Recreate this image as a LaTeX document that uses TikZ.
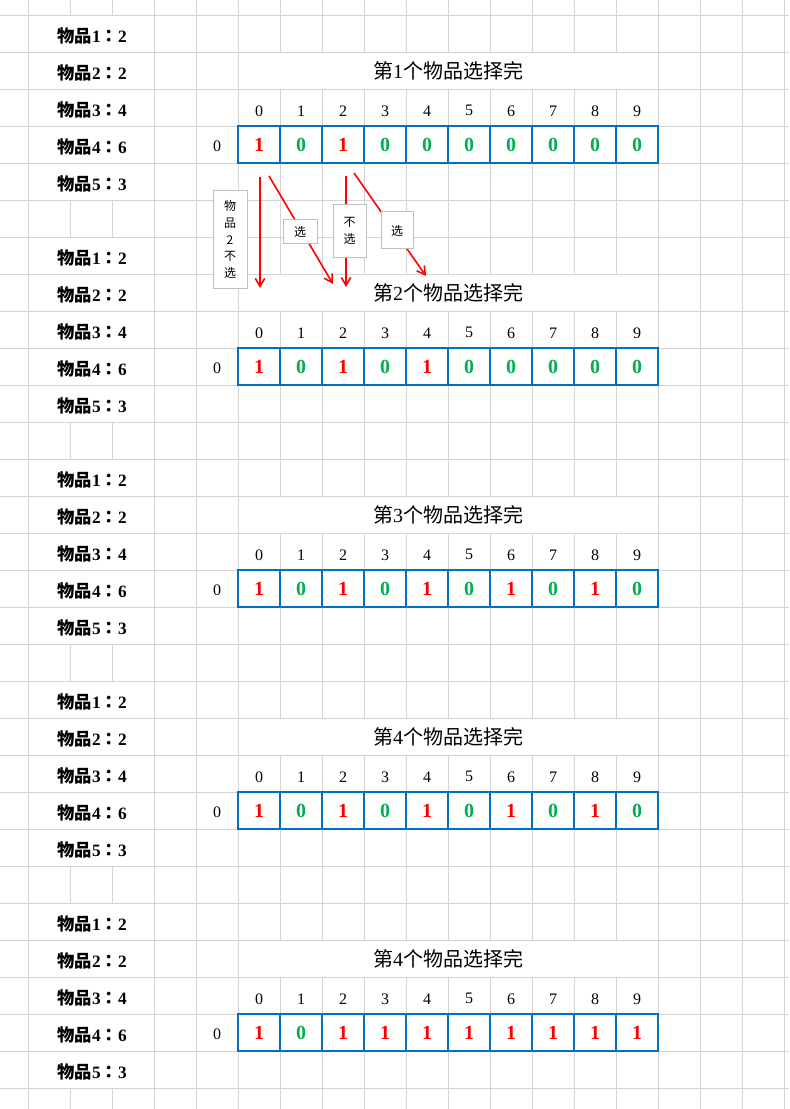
\documentclass[tikz,border=0pt]{standalone}
\usepackage{fontspec}
\setmainfont{Liberation Serif}
\newfontfamily\cjk{Noto Sans CJK SC}
\newfontfamily\cjkpunct{Noto Sans CJK TC}
\usetikzlibrary{arrows.meta}
\definecolor{gridgray}{HTML}{D4D4D4}
\definecolor{cellblue}{HTML}{0070C0}
\definecolor{onered}{HTML}{FF0000}
\definecolor{zerogreen}{HTML}{00B050}
\definecolor{notegray}{HTML}{BFBFBF}
\tikzset{
  gridline/.style={draw=gridgray, line width=0.75pt},
  itemlabel/.style={font=\bfseries\fontsize{13}{15}\selectfont},
  stagetitle/.style={font=\fontsize{15}{17}\selectfont},
  capindex/.style={font=\fontsize{12}{14}\selectfont},
  cellbox/.style={draw=cellblue, line width=1.6pt, minimum width=31.5pt,
    minimum height=27.75pt, inner sep=0pt, font=\bfseries\fontsize{15}{17}\selectfont},
  cell1/.style={text=onered},
  cell0/.style={text=zerogreen},
  note/.style={draw=notegray, line width=0.75pt, fill=white, inner sep=0pt,
    align=center, font=\cjk\fontsize{9}{12.4}\selectfont},
  pickarrow/.style={draw=onered, line width=1.2pt, -{Straight Barb[length=6pt,width=7pt]}}
}

\begin{document}
\begin{tikzpicture}[x=0.75pt,y=-0.75pt]
  \useasboundingbox (0,0) rectangle (789,1109);
  \fill [white] (0,0) rectangle (789,1109);
  % sheet grid
  \foreach \k in {0,...,18}
    \draw [gridline] ({28+42*\k},0) -- ({28+42*\k},1109);
  \foreach \k in {0,...,29}
    \draw [gridline] (0,{15.3+37*\k}) -- (789,{15.3+37*\k});
  % five blocks
  \foreach \b/\t/\vals in {0/1/{1,0,1,0,0,0,0,0,0,0},
                          1/2/{1,0,1,0,1,0,0,0,0,0},
                          2/3/{1,0,1,0,1,0,1,0,1,0},
                          3/4/{1,0,1,0,1,0,1,0,1,0},
                          4/4/{1,0,1,1,1,1,1,1,1,1}} {
    \pgfmathsetmacro\blocky{15.3+222*\b}
    \foreach \j/\n/\w in {0/1/2,1/2/2,2/3/4,3/4/6,4/5/3} {
      \fill [white] (28.6,{\blocky+37*\j+0.6}) rectangle (153.4,{\blocky+37*\j+36.4});
      \node [itemlabel] (item-\b-\n) at (92,{\blocky+37*\j+20.5}) {{\cjk 物品}\n{\cjkpunct ：}\w};
    }
    \fill [white] (238.6,{\blocky+37.6}) rectangle (657.4,{\blocky+73.4});
    \node [stagetitle] (title-\b) at (448,{\blocky+55.5}) {{\cjk 第}\t{\cjk 个物品选择完}};
    \foreach \i in {0,...,9}
      \node [capindex] (cap-\b-\i) at ({259+42*\i},{\blocky+95.5}) {\i};
    \node [capindex] (row-\b) at (217,{\blocky+131}) {0};
    \foreach \v [count=\i from 0] in \vals
      \node [cellbox, cell\v] (cell-\b-\i) at ({259+42*\i},{\blocky+129.5}) {\v};
  }
  % choices for item 2
  \coordinate (skipA-s) at (260,177);
  \coordinate (skipA-e) at (260,288);
  \coordinate (takeA-s) at (269,176);
  \coordinate (takeA-e) at (333,284);
  \coordinate (skipB-s) at (346,176);
  \coordinate (skipB-e) at (346,287);
  \coordinate (takeB-s) at (354,173);
  \coordinate (takeB-e) at (426,276);
  \draw [pickarrow] (skipA-s) -- (skipA-e);
  \draw [pickarrow] (takeA-s) -- (takeA-e);
  \draw [pickarrow] (skipB-s) -- (skipB-e);
  \draw [pickarrow] (takeB-s) -- (takeB-e);
  \node [note, minimum width=25.5pt, minimum height=72.75pt] (note-skip2) at (230,239.5) {物\\品\\2\\不\\选};
  \node [note, minimum width=25.5pt, minimum height=18pt] (note-takeA) at (300,232) {选};
  \node [note, minimum width=24.75pt, minimum height=39pt] (note-skipB) at (349.5,231) {不\\选};
  \node [note, minimum width=24pt, minimum height=27.75pt] (note-takeB) at (397,230.5) {选};
\end{tikzpicture}
\end{document}
